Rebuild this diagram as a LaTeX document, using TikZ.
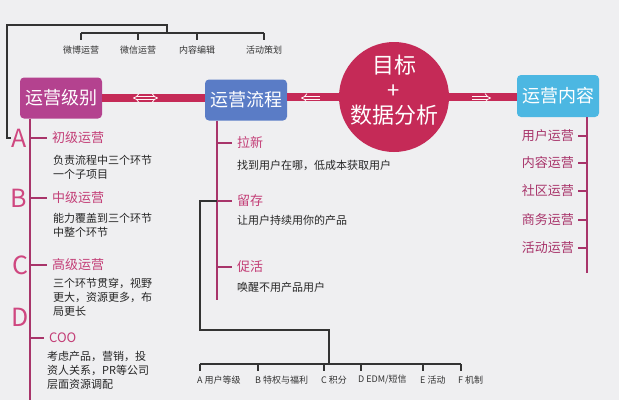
\documentclass[tikz,border=0pt]{standalone}
\usepackage{fontspec}
\setmainfont{Noto Sans CJK SC}
\usetikzlibrary{arrows.meta}
\definecolor{bgc}{HTML}{EFEFF1}
\definecolor{barc}{HTML}{C52A57}
\definecolor{purpc}{HTML}{B4428F}
\definecolor{bluec}{HTML}{5A7CC6}
\definecolor{cyanc}{HTML}{4CB7E2}
\definecolor{linec}{HTML}{A8346A}
\definecolor{labc}{HTML}{C33D76}
\definecolor{letc}{HTML}{CF4780}
\newcommand\myfs[2]{\fontsize{#1}{#2}\selectfont}
\tikzset{
 box/.style={rectangle, rounded corners=4pt, minimum width=82pt, minimum height=41pt, text=white, font=\myfs{18}{20}, inner sep=0},
 lab/.style={anchor=west, text=labc, font=\myfs{13}{15}, inner sep=0},
 rlab/.style={anchor=east, text=linec, font=\myfs{13}{15}, inner sep=0},
 desc/.style={anchor=west, align=left, text=black!85, font=\myfs{11}{14}, inner sep=0},
 small/.style={text=black!80, font=\myfs{9}{11}, inner sep=0},
 letter/.style={text=letc, font=\myfs{25}{27}, inner sep=0},
 bk/.style={draw=black!80, line width=1.2pt},
 pl/.style={draw=linec, line width=1.8pt},
 barl/.style={draw=barc, line width=8pt},
 dbl/.style={draw=white!85!pink, double=barc, double distance=2.4pt, line width=0.8pt},
}
\begin{document}
\begin{tikzpicture}[x=1pt,y=-1pt]
\fill[bgc] (0,0) rectangle (619,400);
\useasboundingbox (0,0) rectangle (619,400);

% main nodes
\node[box, fill=purpc] (lvl) at (61,98) {运营级别};
\node[box, fill=bluec] (proc) at (246,100) {运营流程};
\node[circle, fill=barc, minimum size=110pt, inner sep=0] (goal) at (394,97) {};
\node[text=white, align=center, font=\myfs{22}{25}, inner sep=0] (gt) at (394,90) {目标\\+\\数据分析};
\node[box, fill=cyanc, minimum height=42pt] (cont) at (558,96) {运营内容};

% bar
\draw[barl] (lvl.east) -- (lvl.east -| proc.west);
\draw[barl] (proc.east |- goal) -- (goal.west);
\draw[barl] (goal.east) -- (goal -| cont.west);
\draw[dbl, {Implies}-{Implies}] (133,98) -- (158,98);
\draw[dbl, -{Implies}] (320,98) -- (301,98);
\draw[dbl, -{Implies}] (472,98) -- (491,98);

% top bracket
\coordinate (tb1) at (7,25);
\coordinate (tb2) at (167,25);
\coordinate (tbh) at (0,33);
\node[small] (t1) at (81,50) {微博运营};
\node[small] (t2) at (138,50) {微信运营};
\node[small] (t3) at (197,50) {内容编辑};
\node[small] (t4) at (264,50) {活动策划};
\draw[bk] (t1 |- tbh) -- (t4 |- tbh);
\foreach \t in {t1,t2,t3,t4} \draw[bk] (\t |- tbh) -- ++(0,7);

% left column
\coordinate (vl) at ([xshift=10pt]lvl.south west);
\draw[pl] (vl) -- (vl |- 0,400);
\node[letter] (la) at (19,138) {A};
\node[letter] (lb) at (19,198) {B};
\node[letter] (lc) at (20,265) {C};
\node[letter] (ld) at (20,317) {D};
\draw[bk] (la.west) -- (tb1 |- la) -- (tb1) -- (tb2) -- (tb2 |- tbh);

\node[lab] (l1) at (52,138) {初级运营};
\node[lab] (l2) at (52,198) {中级运营};
\node[lab] (l3) at (52,265) {高级运营};
\node[lab] (l4) at (49,338) {COO};
\foreach \l in {l1,l2,l3,l4} \draw[pl] (vl |- \l) -- ([xshift=-5pt]\l.west);

\node[desc] (d1) at (53,167) {负责流程中三个环节\\一个子项目};
\node[desc] (d2) at (53,225) {能力覆盖到三个环节\\中整个环节};
\node[desc] (d3) at (53,297) {三个环节贯穿，视野\\更大，资源更多，布\\局更长};
\node[desc] (d4) at (47,370) {考虑产品，营销，投\\资人关系，PR等公司\\层面资源调配};

% middle column
\coordinate (vm) at ([xshift=-29pt]proc.south);
\draw[pl] (vm) -- (vm |- 0,300);
\node[lab] (r1) at (237,143) {拉新};
\node[lab] (r2) at (237,201) {留存};
\node[lab] (r3) at (237,267) {促活};
\foreach \r in {r1,r2,r3} \draw[pl] (vm |- \r) -- ([xshift=-5pt]\r.west);
\node[desc] (e1) at (237,165) {找到用户在哪，低成本获取用户};
\node[desc] (e2) at (237,220) {让用户持续用你的产品};
\node[desc] (e3) at (237,287) {唤醒不用产品用户};

% bottom bracket
\coordinate (k1) at (200,364);
\coordinate (k2) at (258,364);
\coordinate (k3) at (324,364);
\coordinate (k4) at (361,364);
\coordinate (k5) at (423,364);
\coordinate (k6) at (461,364);
\coordinate (j1) at (200,330);
\coordinate (j2) at (329,330);
\draw[bk] (vm |- r2) -- (j1 |- r2) -- (j1) -- (j2) -- (j2 |- k1);
\draw[bk] (k1) -- (k6);
\foreach \k in {k1,k2,k3,k4,k5,k6} \draw[bk] (\k) -- ++(0,7);
\node[small, anchor=west] (b1) at (197,380) {A 用户等级};
\node[small, anchor=west] (b2) at (255,380) {B 特权与福利};
\node[small, anchor=west] (b3) at (321,380) {C 积分};
\node[small, anchor=west] (b4) at (358,380) {D EDM/短信};
\node[small, anchor=west] (b5) at (420,380) {E 活动};
\node[small, anchor=west] (b6) at (458,380) {F 机制};

% right column
\coordinate (vr) at ([xshift=29pt]cont.south);
\draw[pl] (vr) -- (vr |- 0,273);
\node[rlab] (c1) at (574,136) {用户运营};
\node[rlab] (c2) at (574,163) {内容运营};
\node[rlab] (c3) at (574,191) {社区运营};
\node[rlab] (c4) at (574,220) {商务运营};
\node[rlab] (c5) at (574,248) {活动运营};
\foreach \c in {c1,c2,c3,c4,c5} \draw[pl] ([xshift=4pt]\c.east) -- (vr |- \c);
\end{tikzpicture}
\end{document}
